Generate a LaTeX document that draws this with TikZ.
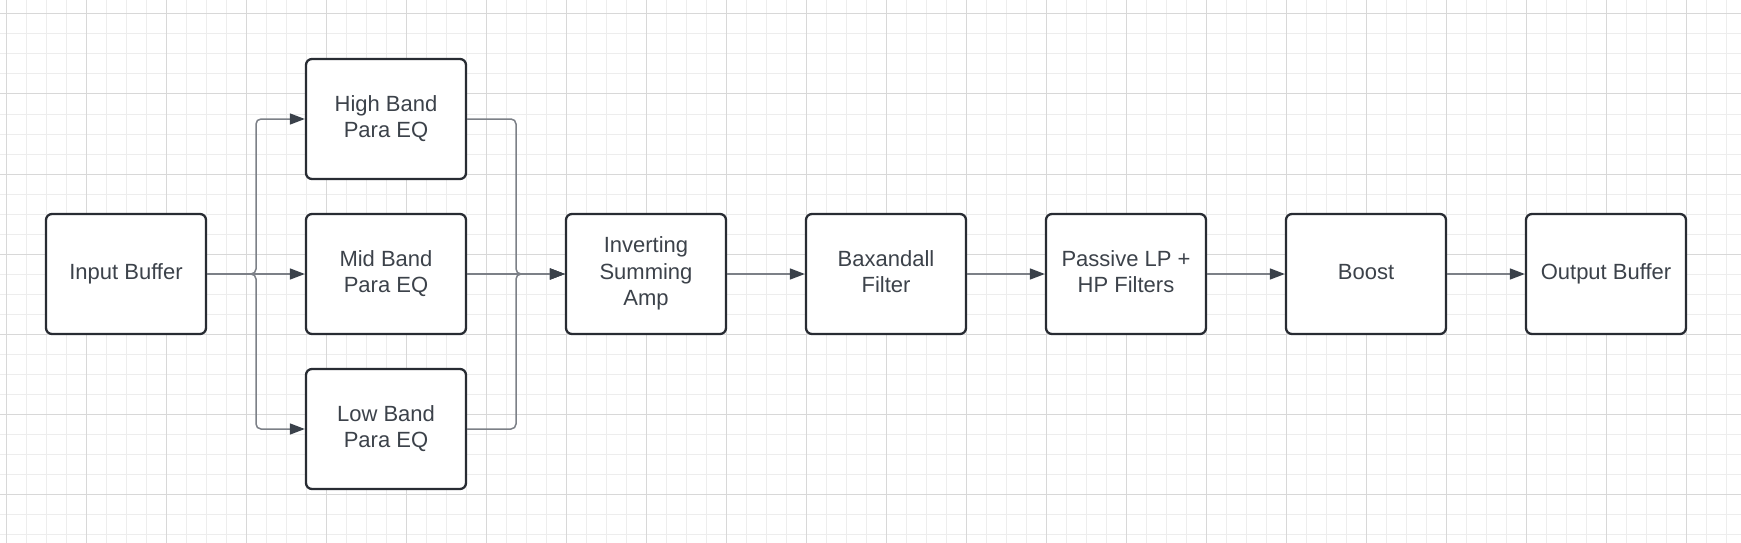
\documentclass[tikz,border=0pt]{standalone}
\usepackage{fontspec}
\setmainfont{Liberation Sans}
\usetikzlibrary{arrows.meta}
\definecolor{boxc}{HTML}{282C33}
\definecolor{txtc}{HTML}{3C424A}
\definecolor{linec}{HTML}{7C8087}
\definecolor{tipc}{HTML}{3A414A}
\definecolor{gridminor}{HTML}{EDEDED}
\definecolor{gridmajor}{HTML}{D8D8D8}
\begin{document}
\begin{tikzpicture}[x=1pt,y=-1pt,
  blockbox/.style={draw=boxc, line width=2.3pt, rounded corners=6pt,
    minimum width=160pt, minimum height=120pt, align=center, text=txtc,
    font=\fontsize{22}{26.5}\selectfont, fill=white, inner sep=0pt},
  conn/.style={draw=linec, line width=1.5pt, rounded corners=5pt,
    -{Triangle[length=15pt,width=11pt,color=tipc]}},
  gminor/.style={draw=gridminor, line width=1pt},
  gmajor/.style={draw=gridmajor, line width=1pt}]
\useasboundingbox (0,0) rectangle (1741,543);
\fill[white] (0,0) rectangle (1741,543);
% grid
\foreach \i in {0,...,86} \draw[gminor] ({6.67+20*\i},0) -- ({6.67+20*\i},543);
\foreach \j in {0,...,26} \draw[gminor] (0,{14+20*\j}) -- (1741,{14+20*\j});
\foreach \i in {0,...,21} \draw[gmajor] ({6.67+80*\i},0) -- ({6.67+80*\i},543);
\foreach \j in {0,...,6} \draw[gmajor] (0,{14+80*\j}) -- (1741,{14+80*\j});
% nodes
\node[blockbox] (in)  at (126,274) {Input Buffer\strut};
\node[blockbox] (hi)  at (386,119) {High Band\strut\\Para EQ\strut};
\node[blockbox] (mid) at (386,274) {Mid Band\strut\\Para EQ\strut};
\node[blockbox] (lo)  at (386,429) {Low Band\strut\\Para EQ\strut};
\node[blockbox] (inv) at (646,274) {Inverting\strut\\Summing\strut\\Amp\strut};
\node[blockbox] (bax) at (886,274) {Baxandall\strut\\Filter\strut};
\node[blockbox] (pas) at (1126,274) {Passive LP +\strut\\HP Filters\strut};
\node[blockbox] (bst) at (1366,274) {Boost\strut};
\node[blockbox] (out) at (1606,274) {Output Buffer\strut};
\coordinate (jl) at (256,274);
\coordinate (jr) at (516,274);
% connectors
\draw[conn] (in.east) -- (jl) |- (hi.west);
\draw[conn] (in.east) -- (jl) |- (lo.west);
\draw[conn] (in.east) -- (mid.west);
\draw[conn] (hi.east) -| (jr) -- (inv.west);
\draw[conn] (lo.east) -| (jr) -- (inv.west);
\draw[conn] (mid.east) -- (inv.west);
\draw[conn] (inv.east) -- (bax.west);
\draw[conn] (bax.east) -- (pas.west);
\draw[conn] (pas.east) -- (bst.west);
\draw[conn] (bst.east) -- (out.west);
\end{tikzpicture}
\end{document}
